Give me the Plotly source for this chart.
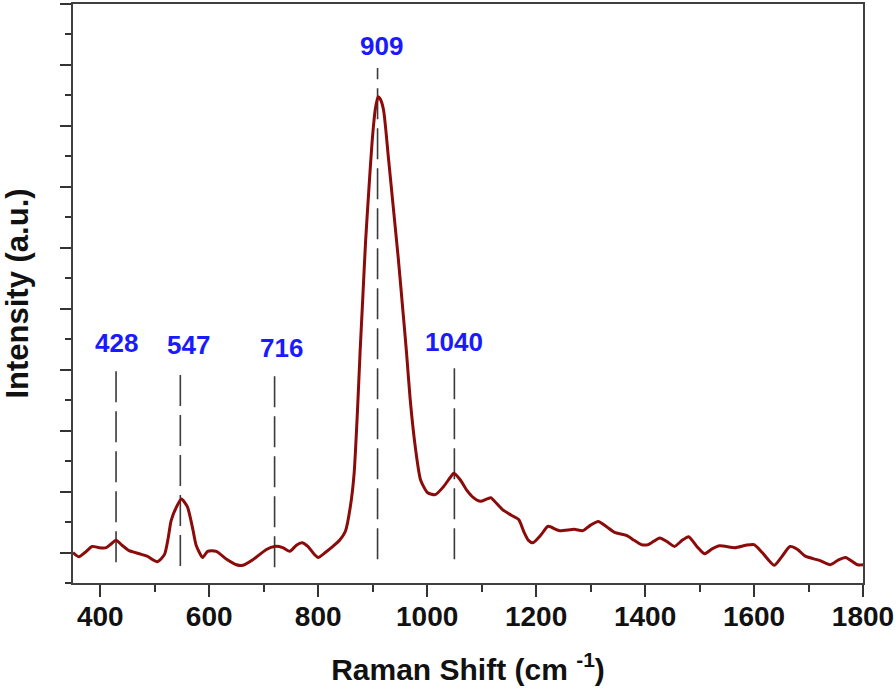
import plotly.graph_objects as go

# Raman spectrum
raman_shift = [350, 361, 372, 385, 398, 411, 420, 429, 440, 453, 472, 486, 505, 518, 525, 530,
               540, 549, 560, 570, 576, 588, 597, 613, 632, 650, 662, 680, 705, 720, 735, 748,
               760, 770, 781, 792, 800, 813, 827, 840, 850, 859, 866, 872, 877, 882, 887, 893,
               899, 905, 910, 914, 920, 929, 938, 947, 955, 962, 969, 979, 988, 1001, 1015, 1030,
               1043, 1049, 1061, 1073, 1085, 1098, 1110, 1117, 1128, 1139, 1153, 1168, 1178, 1186,
               1194, 1209, 1222, 1242, 1270, 1286, 1300, 1314, 1330, 1344, 1366, 1380, 1393, 1406,
               1427, 1440, 1454, 1468, 1480, 1495, 1509, 1523, 1537, 1565, 1585, 1600, 1615, 1637,
               1650, 1666, 1680, 1694, 1720, 1740, 1755, 1768, 1790, 1800]
intensity = [0.0, -0.07, 0.0, 0.1, 0.08, 0.08, 0.14, 0.2, 0.12, 0.03, -0.02, -0.06, -0.15, -0.03, 0.25, 0.52,
             0.75, 0.88, 0.75, 0.38, 0.12, -0.08, 0.02, 0.02, -0.11, -0.2, -0.21, -0.12, 0.05, 0.1, 0.08, 0.02,
             0.12, 0.16, 0.1, -0.02, -0.08, 0.0, 0.1, 0.21, 0.35, 0.75, 1.3, 2.3, 3.3, 4.2, 5.1, 5.95,
             6.74, 7.28, 7.48, 7.44, 7.26, 6.47, 5.65, 4.83, 4.02, 3.3, 2.5, 1.68, 1.19, 0.98, 0.95, 1.08,
             1.24, 1.3, 1.19, 1.02, 0.9, 0.84, 0.88, 0.9, 0.8, 0.7, 0.62, 0.54, 0.33, 0.2,
             0.16, 0.29, 0.43, 0.36, 0.38, 0.36, 0.45, 0.51, 0.42, 0.33, 0.28, 0.2, 0.13, 0.13,
             0.24, 0.18, 0.1, 0.2, 0.26, 0.1, -0.02, 0.06, 0.11, 0.08, 0.12, 0.13, 0.0, -0.21,
             -0.08, 0.1, 0.05, -0.06, -0.13, -0.2, -0.12, -0.08, -0.2, -0.2]

# Marked peaks: label text, dashed-line position, line top / bottom
peak_labels = ["428", "547", "716", "909", "1040"]
peak_line_x = [429, 547, 720, 909, 1050]
peak_line_top = [3.07, 3.04, 2.99, 7.95, 3.1]
peak_line_bottom = [-0.16, -0.22, -0.24, -0.11, -0.11]

x_ticks = [400, 600, 800, 1000, 1200, 1400, 1600, 1800]

fig = go.Figure()

for xp, yt, yb in zip(peak_line_x, peak_line_top, peak_line_bottom):
    fig.add_trace(go.Scatter(x=[xp, xp], y=[yb, yt], mode="lines",
                             line=dict(color="#3a3a3a", width=1.6, dash="31px,9px"),
                             hoverinfo="skip", showlegend=False))

fig.add_trace(go.Scatter(x=raman_shift, y=intensity, mode="lines",
                         line=dict(color="#8b0a0a", width=3, shape="spline", smoothing=0.6),
                         showlegend=False))

label_shift = [0, 8, 7, 4, 0]
for lab, xp, yt, dx in zip(peak_labels, peak_line_x, peak_line_top, label_shift):
    fig.add_annotation(x=xp, y=yt, text=lab, showarrow=False, xshift=dx, yshift=5,
                       yanchor="bottom",
                       font=dict(family="Liberation Sans", size=26, color="#1a1aff", weight="bold"))

axis_font = dict(family="Liberation Sans", size=28, color="#111111", weight="bold")
fig.update_xaxes(range=[350, 1800], tickvals=x_ticks, ticks="outside", ticklen=12, tickwidth=2,
                 tickcolor="#333333", showline=True, linecolor="#404040", linewidth=2, mirror=True,
                 showgrid=False, zeroline=False, tickfont=axis_font, ticklabelstandoff=-5,
                 ticklabeloverflow="allow",
                 minor=dict(dtick=100, tick0=300, ticks="outside", ticklen=7, tickwidth=2, tickcolor="#333333"),
                 title=dict(text="Raman Shift (cm <sup>-1</sup>)", standoff=28,
                            font=dict(family="Liberation Sans", size=30, color="#111111", weight="bold")))
fig.update_yaxes(range=[-0.5, 9], tick0=0, dtick=1, ticks="outside", ticklen=11, tickwidth=2,
                 tickcolor="#333333", showticklabels=False, showline=True, linecolor="#404040",
                 linewidth=2, mirror=True, showgrid=False, zeroline=False,
                 minor=dict(dtick=0.5, tick0=0, ticks="outside", ticklen=6, tickwidth=2, tickcolor="#333333"),
                 title=dict(text="Intensity (a.u.)", standoff=28,
                            font=dict(family="Liberation Sans", size=31, color="#111111", weight="bold")))

fig.update_layout(width=896, height=691, margin=dict(l=73, r=31, t=2, b=108),
                  paper_bgcolor="white", plot_bgcolor="white", showlegend=False)

fig.write_html("out.html", config={"displayModeBar": False},
               post_script="document.body.style.margin='0px';")
